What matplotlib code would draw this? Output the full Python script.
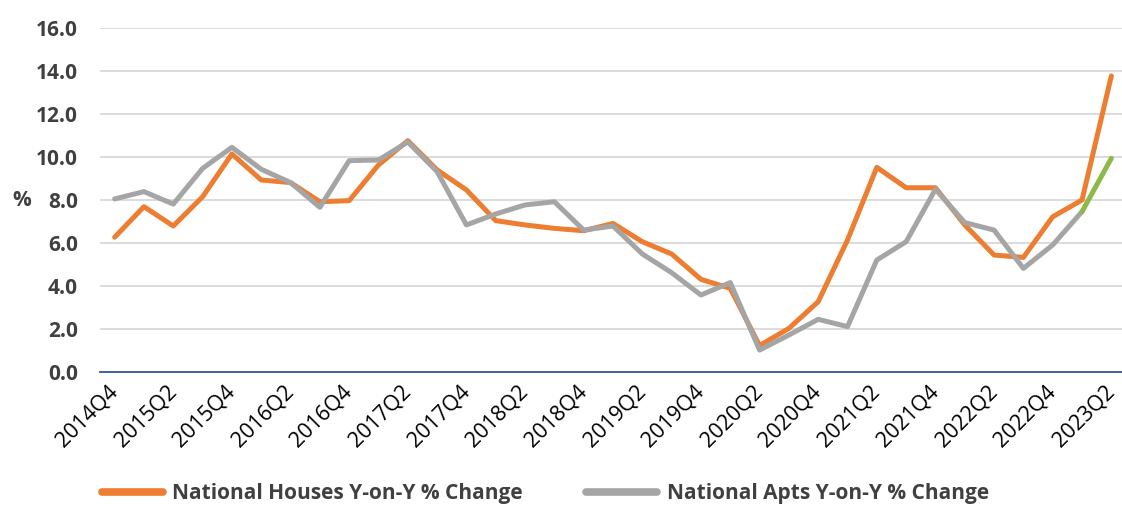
import matplotlib
matplotlib.use('Agg')
import matplotlib.pyplot as plt
from matplotlib.lines import Line2D

plt.rcParams['font.family'] = ['Open Sans', 'DejaVu Sans']

quarters = [f'{y}Q{q}' for y, q in
            [(2014, 4)] + [(y, q) for y in range(2015, 2023) for q in (1, 2, 3, 4)]
            + [(2023, 1), (2023, 2)]]

houses = [6.27, 7.69, 6.79, 8.15, 10.14, 8.93, 8.81, 7.92, 7.97, 9.63,
          10.76, 9.40, 8.47, 7.04, 6.84, 6.68, 6.57, 6.91, 6.06, 5.49,
          4.31, 3.89, 1.23, 2.03, 3.27, 6.14, 9.52, 8.57, 8.57, 6.84,
          5.44, 5.33, 7.22, 8.00, 13.77]

apts = [8.05, 8.39, 7.81, 9.47, 10.45, 9.43, 8.81, 7.66, 9.83, 9.86,
        10.70, 9.32, 6.84, 7.35, 7.77, 7.92, 6.60, 6.79, 5.49, 4.62,
        3.58, 4.16, 1.02, 1.72, 2.45, 2.11, 5.21, 6.06, 8.50, 6.95,
        6.60, 4.82, 5.91, 7.46]
apts_latest = 9.94

ORANGE = '#ED7D31'
GREY = '#A5A5A5'
GREEN = '#8DB94A'
W, H = 1122, 507

fig = plt.figure(figsize=(W / 100, H / 100), dpi=100)
ax = fig.add_axes([100 / W, 1 - 372 / H, 1026 / W, 344 / H])

x = list(range(len(quarters)))
lw = 3.6
ax.plot(x, houses, color=ORANGE, lw=lw, solid_joinstyle='round',
        solid_capstyle='round', zorder=3)
ax.plot(x[:len(apts)], apts, color=GREY, lw=lw, solid_joinstyle='round',
        solid_capstyle='round', zorder=4)
ax.plot(x[len(apts) - 1:], [apts[-1], apts_latest], color=GREEN, lw=lw,
        solid_capstyle='round', zorder=4)

ax.set_xlim(-0.5, len(quarters) - 0.5)
ax.set_ylim(0, 16)
ax.set_yticks(range(0, 17, 2))
ax.set_yticklabels([f'{v:.1f}' for v in range(0, 17, 2)],
                   fontsize=15, fontweight='bold', color='#404040')
ax.set_xticks(x[::2])
ax.set_xticklabels(quarters[::2], rotation=45, ha='right', va='center',
                   rotation_mode='anchor', fontsize=15.5, color='black')
ax.tick_params(axis='both', length=0)
ax.tick_params(axis='y', pad=16)
ax.tick_params(axis='x', pad=12)

ax.grid(axis='y', color='#D9D9D9', lw=1.3)
ax.set_axisbelow(True)
for s in ['top', 'right', 'left']:
    ax.spines[s].set_visible(False)
ax.spines['bottom'].set_color('#2F5597')
ax.spines['bottom'].set_linewidth(1.3)
ax.spines['bottom'].set_zorder(5)

fig.text(22 / W, 1 - 200 / H, '%', fontsize=15, fontweight='bold',
         color='#404040', ha='center', va='center')

# two legend entries placed separately, as in the original
entries = [(ORANGE, 'National Houses Y-on-Y % Change', 94, 2.9),
           (GREY, 'National Apts Y-on-Y % Change', 578, 3.4)]
for col, lab, px, hl in entries:
    h = Line2D([], [], color=col, lw=5.5, solid_capstyle='round')
    fig.legend([h], [lab], loc='center left',
               bbox_to_anchor=(px / W, 1 - 494 / H), frameon=False,
               handlelength=hl, handletextpad=0.45, borderaxespad=0,
               prop={'size': 15, 'weight': 'bold'}, labelcolor='#404040')

fig.savefig('out.png', dpi=100)
